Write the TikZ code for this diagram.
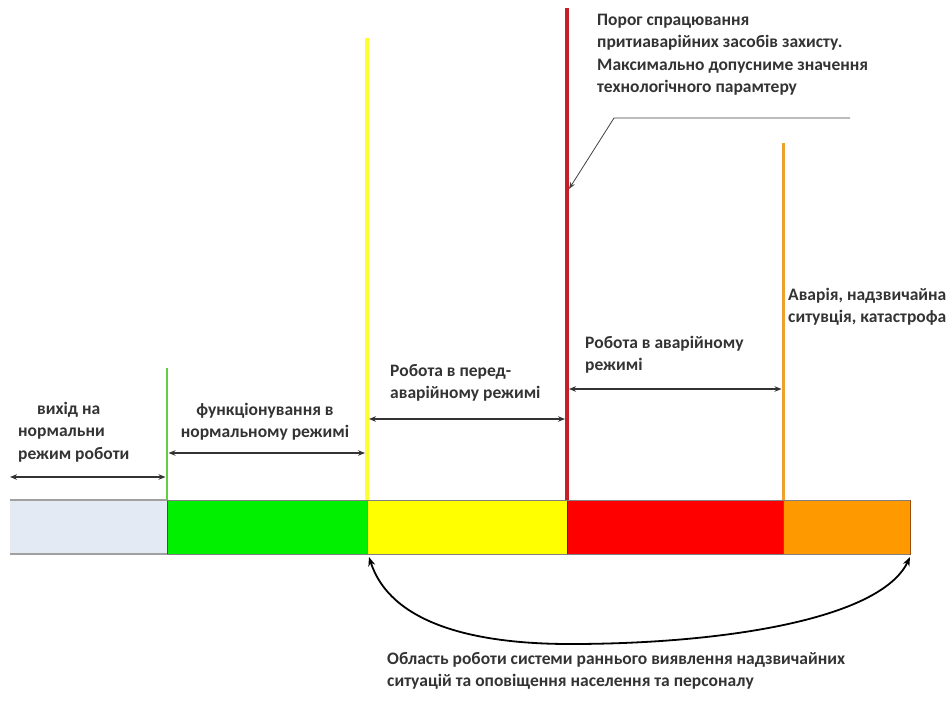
\documentclass[tikz,border=0pt]{standalone}
\usepackage{fontspec}
\setmainfont{Carlito}
\usetikzlibrary{arrows.meta}
\definecolor{txt}{HTML}{333333}
\definecolor{cblue}{HTML}{E4EAF4}
\definecolor{cgreen}{HTML}{00F000}
\definecolor{cyellow}{HTML}{FFFF00}
\definecolor{cred}{HTML}{FF0000}
\definecolor{corange}{HTML}{FF9900}
\definecolor{lgreen}{HTML}{66CC44}
\definecolor{lyellow}{HTML}{FFFF33}
\definecolor{lred}{HTML}{C42028}
\definecolor{lorange}{HTML}{F0A030}
\definecolor{barline}{HTML}{A0A0A0}
\begin{document}
\begin{tikzpicture}[x=1pt,y=-1pt,
  lbl/.style={font=\fontsize{17.5}{22.5}\selectfont\bfseries, text=txt, inner sep=0pt, align=left, anchor=base west},
  dim/.style={draw=black!80, line width=1.3pt, {Stealth[length=7pt,width=5.5pt]}-{Stealth[length=7pt,width=5.5pt]}},
  seg/.style={line width=0.8pt},
  vline/.style={line width=3pt},
]
\useasboundingbox (0,0) rectangle (949,707);
% bar segments
\coordinate (b0) at (10,500);
\coordinate (b1) at (167,500);
\coordinate (b2) at (367,500);
\coordinate (b3) at (567,500);
\coordinate (b4) at (783,500);
\coordinate (b5) at (910,500);
\fill[cblue] (10,500) rectangle (167,554);
\filldraw[seg, fill=cgreen, draw=green!50!black] (167,500) rectangle (367,554);
\filldraw[seg, fill=cyellow, draw=yellow!50!black] (367,500) rectangle (567,554);
\filldraw[seg, fill=cred, draw=red!60!black] (567,500) rectangle (783,554);
\filldraw[seg, fill=corange, draw=orange!60!black] (783,500) rectangle (910,554);
\draw[barline, line width=2pt] (10,500) -- (167,500) (10,554) -- (167,554);
\draw[barline!80!black, line width=1pt] (167,500) -- (910,500) (167,554) -- (910,554);
% vertical threshold lines
\coordinate (tg) at (167,368);
\coordinate (ty) at (367,38);
\coordinate (tr) at (567,8);
\coordinate (to) at (783,143);
\draw[vline, lgreen, line width=2.5pt] (tg) -- (b1);
\draw[vline, lyellow, line width=3.5pt] (ty) -- (b2);
\draw[vline, lred, line width=3.5pt] (tr) -- (b3);
\draw[vline, lorange] (to) -- (b4);
% dimension arrows
\coordinate (a0l) at (10,477);  \coordinate (a0r) at (165.5,477);
\coordinate (a1l) at (168.5,453); \coordinate (a1r) at (365,453);
\coordinate (a2l) at (369,419); \coordinate (a2r) at (565,419);
\coordinate (a3l) at (569,389); \coordinate (a3r) at (781.5,389);
\draw[dim] (a0l) -- (a0r);
\draw[dim] (a1l) -- (a1r);
\draw[dim] (a2l) -- (a2r);
\draw[dim] (a3l) -- (a3r);
% labels (anchor = baseline of last line)
\node[lbl] (l0) at (18,459) {\hspace{19pt}вихід на\\нормальни\\режим роботи};
\node[lbl, align=center, anchor=base] (l1) at (265,437.5) {функціонування в\\нормальному режимі};
\node[lbl] (l2) at (390,398.5) {Робота в перед-\\аварійному режимі};
\node[lbl] (l3) at (585,370.5) {Робота в аварійному\\режимі};
\node[lbl] (l4) at (788,322.5) {Аварія, надзвичайна\\ситувція, катастрофа};
\node[lbl] (l5) at (597,92.5) {Порог спрацювання\\притиаварійних засобів захисту.\\Максимально допусниме значення\\технологічного парамтеру};
\node[lbl] (l6) at (387,686.5) {Область роботи системи раннього виявлення надзвичайних\\ситуацій та оповіщення населення та персоналу};
% leader
\coordinate (ld0) at (850,118);
\coordinate (ld1) at (614,118);
\coordinate (ld2) at (569,189);
\draw[black!75, line width=0.8pt, -{Stealth[length=7pt,width=5pt]}] (ld0) -- (ld1) -- (ld2);
% bottom curve
\coordinate (c0) at (369,557);
\coordinate (cm) at (570,644);
\coordinate (c1) at (910,557);
\draw[black, line width=1.8pt, {Stealth[length=9pt,width=7pt]}-{Stealth[length=9pt,width=7pt]}]
  (c0) .. controls (390,622) and (470,644) .. (cm) .. controls (720,644) and (880,620) .. (c1);
\end{tikzpicture}
\end{document}
